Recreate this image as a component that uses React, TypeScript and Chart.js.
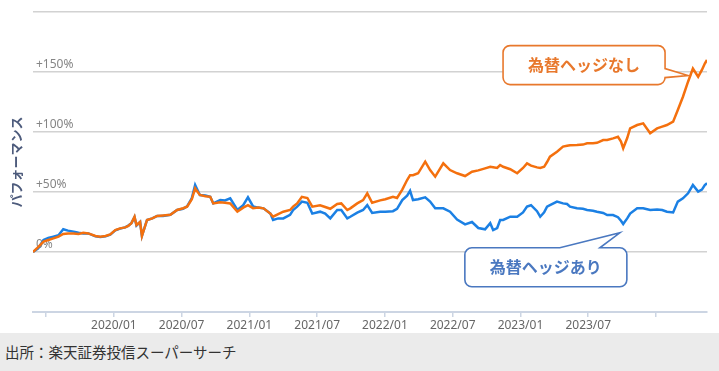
import React, { useEffect, useRef } from 'react';
import { Chart, registerables } from 'chart.js';

Chart.register(...registerables);

// ---- data ----
const dates = [
  '2019-05-27','2019-06-10','2019-06-24','2019-07-07','2019-07-21','2019-08-04','2019-08-17','2019-08-30',
  '2019-09-14','2019-09-27','2019-10-10','2019-10-24','2019-11-12','2019-11-25','2019-12-09','2019-12-22',
  '2020-01-05','2020-01-18','2020-02-01','2020-02-09','2020-02-17','2020-02-25','2020-03-01','2020-03-11',
  '2020-03-16','2020-03-30','2020-04-13','2020-04-26','2020-05-12','2020-06-01','2020-06-19','2020-07-05',
  '2020-07-16','2020-07-29','2020-08-07','2020-08-20','2020-09-04','2020-09-17','2020-09-25','2020-10-14',
  '2020-10-27','2020-11-10','2020-11-29','2020-12-15','2020-12-28','2021-01-11','2021-01-25','2021-02-08',
  '2021-02-25','2021-03-04','2021-03-18','2021-04-01','2021-04-19','2021-04-27','2021-05-08','2021-05-21',
  '2021-06-05','2021-06-18','2021-07-09','2021-07-23','2021-08-06','2021-08-25','2021-09-05','2021-09-21',
  '2021-09-29','2021-10-18','2021-11-03','2021-11-14','2021-11-27','2021-12-19','2022-01-02','2022-01-23',
  '2022-02-03','2022-02-16','2022-02-28','2022-03-08','2022-03-16','2022-03-30','2022-04-18','2022-05-01',
  '2022-05-15','2022-06-06','2022-06-24','2022-07-13','2022-08-04','2022-08-23','2022-09-09','2022-09-27',
  '2022-10-11','2022-10-19','2022-10-30','2022-11-07','2022-11-15','2022-12-04','2022-12-23','2023-01-08',
  '2023-01-19','2023-01-30','2023-02-14','2023-02-22','2023-03-04','2023-03-12','2023-03-20','2023-04-08',
  '2023-04-24','2023-05-05','2023-05-13','2023-06-01','2023-06-17','2023-06-28','2023-07-14','2023-07-25',
  '2023-08-11','2023-08-22','2023-09-07','2023-09-20','2023-09-28','2023-10-04','2023-10-15','2023-10-23',
  '2023-11-11','2023-11-27','2023-12-16','2024-01-04','2024-01-18','2024-01-31','2024-02-16','2024-02-28',
  '2024-03-13','2024-03-27','2024-04-09','2024-04-23','2024-05-03','2024-05-11','2024-05-17',
];

// 為替ヘッジあり (blue)
const hedged = [
  0, 3, 10, 11.7, 12.8, 14, 19, 17.8,
  17, 16, 15.5, 15.5, 13, 12.5, 13, 14.5,
  18, 19.5, 20.5, 22, 24, 29, 22, 25,
  13.5, 26.7, 28, 30, 30, 31, 35, 36,
  38, 45, 55.8, 47.5, 47, 46, 40.5, 43.3,
  43, 44.7, 35, 39, 45.6, 38, 37, 36.4,
  32, 26.7, 28, 28, 31, 35, 37.8, 42,
  41, 32, 33.6, 32, 28, 35, 35, 28,
  29.4, 32.8, 35, 39, 32.5, 33.6, 33.6, 34,
  36, 43.3, 47, 51, 43.3, 44, 45.6, 42,
  36.4, 36.4, 33.6, 27, 23, 25, 20, 18.9,
  24, 18.3, 20, 26.7, 26.7, 29.4, 29.4, 33,
  37.8, 39, 34, 29.4, 33, 37.8, 39, 42,
  40.5, 40, 37.8, 36.4, 36, 35, 34.4, 33.6,
  32.5, 30.8, 30.8, 29, 26, 23.3, 28, 32,
  36.4, 36.5, 35, 35.5, 35, 33.6, 33, 42,
  44.7, 48.9, 55.8, 50.3, 52, 55.8, 57.2,
];

// 為替ヘッジなし (orange)
const unhedged = [
  0, 4, 8.6, 10, 11.4, 12.8, 15, 15.5,
  15.5, 15, 16, 15.5, 13.3, 12.8, 13.3, 14.7,
  18.3, 19.7, 20.5, 21.7, 24, 29.4, 22.5, 25,
  13.3, 26.7, 28, 30, 30.5, 31, 35, 36.5,
  37.8, 44, 53, 47.5, 46.5, 46, 40.5, 41.4,
  41, 40.5, 33.6, 37, 39, 36.5, 37, 36.4,
  32, 29.4, 31.5, 33.6, 35, 37.8, 40.5, 46,
  45, 37.8, 39, 37.5, 36, 40, 40.5, 35,
  36.4, 40.5, 43.3, 48.9, 41, 43, 44, 46,
  45, 52, 60, 64, 64, 65.6, 75.3, 68.3,
  62.8, 73.9, 68.3, 65.6, 63.3, 66.9, 68, 69.7,
  71, 70.6, 70, 72.5, 71, 69, 65.6, 70,
  73.9, 72, 70.5, 70, 71, 75, 79.4, 83.6,
  87.8, 88.5, 89, 89.2, 89.5, 90.6, 90.6, 91,
  93.3, 93.3, 94.7, 96, 92, 86.4, 95, 103,
  105.8, 107.2, 98.9, 103, 104.5, 105.8, 108.6, 118.3,
  129.4, 141.9, 152.8, 146, 151.7, 157, 160,
];

const seriesNames = ['為替ヘッジなし', '為替ヘッジあり'];
const yTickValues = [-50, 0, 50, 100, 150, 200];
const yTickLabels = ['', '0%', '+50%', '+100%', '+150%', ''];
const xTickDates = ['2019-07-01', '2020-01-01', '2020-07-01', '2021-01-01', '2021-07-01', '2022-01-01', '2022-07-01', '2023-01-01', '2023-07-01', '2024-01-01'];
const xTickLabels = ['', '2020/01', '2020/07', '2021/01', '2021/07', '2022/01', '2022/07', '2023/01', '2023/07', ''];
const yTitle = 'パフォーマンス';
const sourceText = '出所：楽天証券投信スーパーサーチ';
// callout pointer tips (data coordinates)
const calloutTips = [
  { date: '2024-03-27', value: 147 },
  { date: '2023-09-25', value: 16 },
];

const ORANGE = '#f4700e';
const BLUE = '#1b80e4';
const ORANGE_BOX = '#e8782c';
const BLUE_BOX = '#4a78c0';

const toMonth = (s: string) => {
  const [y, m, d] = s.split('-').map(Number);
  const dim = new Date(y, m, 0).getDate();
  return (y - 2019) * 12 + (m - 1) + (d - 1) / dim;
};

const calloutPlugin = {
  id: 'callouts',
  afterDatasetsDraw(chart: any) {
    const { ctx, scales } = chart;
    const xs = scales.x, ys = scales.y;
    const r = 7;
    const w = 162, h = 39;
    ctx.save();
    ctx.lineWidth = 1.6;
    ctx.font = 'bold 16px "Noto Sans CJK JP", sans-serif';
    ctx.textAlign = 'center';
    ctx.textBaseline = 'middle';

    // orange callout: notch on right edge
    {
      const tx = xs.getPixelForValue(toMonth(calloutTips[0].date));
      const ty = ys.getPixelForValue(calloutTips[0].value);
      const x = tx - 185, y = ty - 30;
      ctx.beginPath();
      ctx.moveTo(x + r, y);
      ctx.lineTo(x + w - r, y);
      ctx.arcTo(x + w, y, x + w, y + r, r);
      ctx.lineTo(x + w, ty - 7);
      ctx.lineTo(tx, ty);
      ctx.lineTo(x + w, ty + 2);
      ctx.lineTo(x + w, y + h - r);
      ctx.arcTo(x + w, y + h, x + w - r, y + h, r);
      ctx.lineTo(x + r, y + h);
      ctx.arcTo(x, y + h, x, y + h - r, r);
      ctx.lineTo(x, y + r);
      ctx.arcTo(x, y, x + r, y, r);
      ctx.closePath();
      ctx.fillStyle = '#ffffff';
      ctx.fill();
      ctx.strokeStyle = ORANGE_BOX;
      ctx.stroke();
      ctx.fillStyle = ORANGE_BOX;
      ctx.fillText(seriesNames[0], x + w / 2, y + h / 2);
    }
    // blue callout: notch on top edge
    {
      const tx = xs.getPixelForValue(toMonth(calloutTips[1].date));
      const ty = ys.getPixelForValue(calloutTips[1].value);
      const x = tx - 155, y = ty + 15;
      ctx.beginPath();
      ctx.moveTo(x + r, y);
      ctx.lineTo(tx - 60, y);
      ctx.lineTo(tx, ty);
      ctx.lineTo(tx - 20, y);
      ctx.lineTo(x + w - r, y);
      ctx.arcTo(x + w, y, x + w, y + r, r);
      ctx.lineTo(x + w, y + h - r);
      ctx.arcTo(x + w, y + h, x + w - r, y + h, r);
      ctx.lineTo(x + r, y + h);
      ctx.arcTo(x, y + h, x, y + h - r, r);
      ctx.lineTo(x, y + r);
      ctx.arcTo(x, y, x + r, y, r);
      ctx.closePath();
      ctx.fillStyle = '#ffffff';
      ctx.fill();
      ctx.strokeStyle = BLUE_BOX;
      ctx.stroke();
      ctx.fillStyle = BLUE_BOX;
      ctx.fillText(seriesNames[1], x + w / 2, y + h / 2);
    }
    ctx.restore();
  },
};

export default function App() {
  const ref = useRef<HTMLCanvasElement | null>(null);

  useEffect(() => {
    document.body.style.margin = '0';
    const xVals = dates.map(toMonth);
    const chart = new Chart(ref.current as HTMLCanvasElement, {
      type: 'line',
      data: {
        datasets: [
          {
            label: seriesNames[0],
            data: xVals.map((x, i) => ({ x, y: unhedged[i] })),
            borderColor: ORANGE,
            borderWidth: 2.5,
            pointRadius: 0,
            tension: 0,
          },
          {
            label: seriesNames[1],
            data: xVals.map((x, i) => ({ x, y: hedged[i] })),
            borderColor: BLUE,
            borderWidth: 2.5,
            pointRadius: 0,
            tension: 0,
          },
        ],
      },
      options: {
        animation: false,
        responsive: false,
        layout: { padding: { left: 0, right: 12, top: 12, bottom: 0 } },
        plugins: { legend: { display: false }, tooltip: { enabled: false } },
        scales: {
          x: {
            type: 'linear',
            min: xVals[0],
            max: xVals[xVals.length - 1],
            afterBuildTicks: (s: any) => {
              s.ticks = xTickDates.map((d) => ({ value: toMonth(d) }));
            },
            afterFit: (s: any) => { s.height = 21; },
            border: { display: true, color: '#ccd5e3', width: 2 },
            grid: { drawOnChartArea: false, drawTicks: true, tickLength: 5, color: '#ccd5e3', lineWidth: 1.5 },
            ticks: {
              autoSkip: false,
              maxRotation: 0,
              padding: 1,
              color: '#666666',
              font: { family: '"Noto Sans", sans-serif', size: 12 },
              callback: (_v: any, i: number) => xTickLabels[i],
            },
          },
          y: {
            type: 'linear',
            min: -50,
            max: 200,
            afterBuildTicks: (s: any) => {
              s.ticks = yTickValues.map((v) => ({ value: v }));
            },
            afterFit: (s: any) => { s.width = 33; },
            border: { display: false },
            grid: { color: '#d2d2d2', lineWidth: 1.5, drawTicks: false },
            title: {
              display: true,
              text: yTitle,
              color: '#4d5b7c',
              font: { family: '"Noto Sans CJK JP", sans-serif', size: 13, weight: 'bold' },
              padding: { top: 8, bottom: 0 },
            },
            ticks: {
              mirror: true,
              padding: 3,
              labelOffset: -7,
              color: '#858585',
              font: { family: '"Noto Sans", sans-serif', size: 12 },
              callback: (_v: any, i: number) => yTickLabels[i],
            },
          },
        },
      },
      plugins: [calloutPlugin],
    });
    return () => chart.destroy();
  }, []);

  return (
    <div style={{ width: 719, height: 371, background: '#fff', overflow: 'hidden' }}>
      <canvas ref={ref} width={719} height={333} style={{ display: 'block' }} />
      <div
        style={{
          height: 38,
          background: '#ebebeb',
          color: '#333',
          fontFamily: '"Noto Sans CJK JP", sans-serif',
          fontSize: 14.5,
          lineHeight: '38px',
          paddingLeft: 5,
          whiteSpace: 'nowrap',
        }}
      >
        {sourceText}
      </div>
    </div>
  );
}
